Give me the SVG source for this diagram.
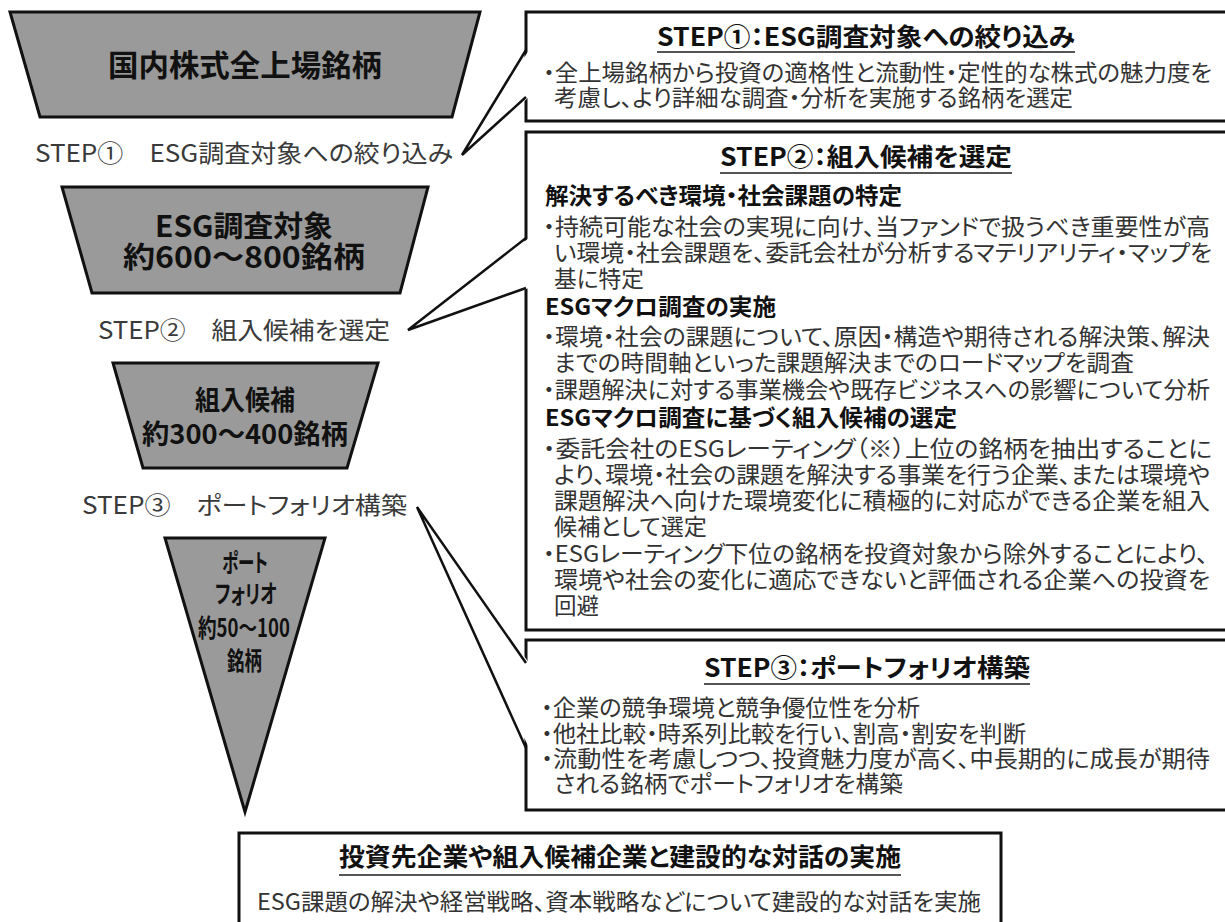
<svg xmlns="http://www.w3.org/2000/svg" width="1225" height="922" viewBox="0 0 1225 922">
<style>
text{font-family:"Noto Sans CJK JP","Noto Sans",sans-serif;font-feature-settings:"palt";}
.funnel{fill:#9a9a9a;stroke:#111;stroke-width:3;stroke-linejoin:miter;}
.ft{font-weight:bold;fill:#111;}
.lbl{font-size:24px;fill:#3a3a3a;}
.box{fill:#fff;stroke:#111;stroke-width:3;}
.ttl{font-size:25px;font-weight:bold;fill:#111;}
.ul{stroke:#555;stroke-width:2;}
.body{font-size:23px;fill:#333;}
.sub{font-size:23px;font-weight:bold;fill:#111;}
.ptrfill{fill:#fff;stroke:none;}
.ptr{fill:none;stroke:#111;stroke-width:2.5;stroke-linejoin:miter;}
</style>
<rect width="1225" height="922" fill="#fff"/>

<g id="funnel-all">
<polygon class="funnel" points="10,12 480,12 452,117 40,117"/>
<text class="ft" x="108" y="76" font-size="30" textLength="274" lengthAdjust="spacingAndGlyphs">国内株式全上場銘柄</text>
</g>
<g id="label-step1">
<text class="lbl" x="35" y="162" textLength="418" lengthAdjust="spacingAndGlyphs">STEP①　ESG調査対象への絞り込み</text>
</g>
<g id="funnel-esg">
<polygon class="funnel" points="62,187 428,187 400,293 92,293"/>
<text class="ft" x="155" y="237" font-size="29" textLength="178" lengthAdjust="spacingAndGlyphs">ESG調査対象</text>
<text class="ft" x="123" y="268" font-size="29" textLength="242" lengthAdjust="spacingAndGlyphs">約600～800銘柄</text>
</g>
<g id="label-step2">
<text class="lbl" x="98" y="339" textLength="292" lengthAdjust="spacingAndGlyphs">STEP②　組入候補を選定</text>
</g>
<g id="funnel-candidates">
<polygon class="funnel" points="113,363 378,363 347,468 143,468"/>
<text class="ft" x="195" y="410" font-size="27" textLength="100" lengthAdjust="spacingAndGlyphs">組入候補</text>
<text class="ft" x="142" y="444" font-size="27" textLength="206" lengthAdjust="spacingAndGlyphs">約300～400銘柄</text>
</g>
<g id="label-step3">
<text class="lbl" x="82" y="514" textLength="325" lengthAdjust="spacingAndGlyphs">STEP③　ポートフォリオ構築</text>
</g>
<g id="funnel-portfolio">
<polygon class="funnel" points="165,538 325,538 245,812"/>
<text class="ft" x="222" y="572" font-size="25" textLength="46" lengthAdjust="spacingAndGlyphs">ポート</text>
<text class="ft" x="215" y="603" font-size="25" textLength="62" lengthAdjust="spacingAndGlyphs">フォリオ</text>
<text class="ft" x="198" y="637" font-size="25" textLength="92" lengthAdjust="spacingAndGlyphs">約50～100</text>
<text class="ft" x="227" y="670" font-size="25" textLength="35" lengthAdjust="spacingAndGlyphs">銘柄</text>
</g>

<g id="box-step1">
<rect class="box" x="526" y="12" width="720" height="109"/>
<text class="ttl" x="657" y="46" textLength="418" lengthAdjust="spacingAndGlyphs">STEP①：ESG調査対象への絞り込み</text>
<line class="ul" x1="657" y1="52" x2="1075" y2="52"/>
<text class="body" x="543" y="81" textLength="669" lengthAdjust="spacingAndGlyphs">・全上場銘柄から投資の適格性と流動性・定性的な株式の魅力度を</text>
<text class="body" x="554" y="106" textLength="519" lengthAdjust="spacingAndGlyphs">考慮し、より詳細な調査・分析を実施する銘柄を選定</text>
</g>

<g id="box-step2">
<rect class="box" x="526" y="132" width="720" height="498"/>
<text class="ttl" x="720" y="166" textLength="292" lengthAdjust="spacingAndGlyphs">STEP②：組入候補を選定</text>
<line class="ul" x1="720" y1="173" x2="1012" y2="173"/>
<text class="sub" x="545" y="204" textLength="357" lengthAdjust="spacingAndGlyphs">解決するべき環境・社会課題の特定</text>
<text class="body" x="543" y="235" textLength="667" lengthAdjust="spacingAndGlyphs">・持続可能な社会の実現に向け、当ファンドで扱うべき重要性が高</text>
<text class="body" x="554" y="261" textLength="658" lengthAdjust="spacingAndGlyphs">い環境・社会課題を、委託会社が分析するマテリアリティ・マップを</text>
<text class="body" x="554" y="287" textLength="90" lengthAdjust="spacingAndGlyphs">基に特定</text>
<text class="sub" x="545" y="315" textLength="231" lengthAdjust="spacingAndGlyphs">ESGマクロ調査の実施</text>
<text class="body" x="543" y="345" textLength="667" lengthAdjust="spacingAndGlyphs">・環境・社会の課題について、原因・構造や期待される解決策、解決</text>
<text class="body" x="554" y="371" textLength="580" lengthAdjust="spacingAndGlyphs">までの時間軸といった課題解決までのロードマップを調査</text>
<text class="body" x="543" y="398" textLength="667" lengthAdjust="spacingAndGlyphs">・課題解決に対する事業機会や既存ビジネスへの影響について分析</text>
<text class="sub" x="545" y="426" textLength="412" lengthAdjust="spacingAndGlyphs">ESGマクロ調査に基づく組入候補の選定</text>
<text class="body" x="543" y="457" textLength="669" lengthAdjust="spacingAndGlyphs">・委託会社のESGレーティング（※）上位の銘柄を抽出することに</text>
<text class="body" x="554" y="483" textLength="656" lengthAdjust="spacingAndGlyphs">より、環境・社会の課題を解決する事業を行う企業、または環境や</text>
<text class="body" x="554" y="509" textLength="656" lengthAdjust="spacingAndGlyphs">課題解決へ向けた環境変化に積極的に対応ができる企業を組入</text>
<text class="body" x="554" y="535" textLength="153" lengthAdjust="spacingAndGlyphs">候補として選定</text>
<text class="body" x="543" y="562" textLength="665" lengthAdjust="spacingAndGlyphs">・ESGレーティング下位の銘柄を投資対象から除外することにより、</text>
<text class="body" x="554" y="588" textLength="656" lengthAdjust="spacingAndGlyphs">環境や社会の変化に適応できないと評価される企業への投資を</text>
<text class="body" x="554" y="614" textLength="45" lengthAdjust="spacingAndGlyphs">回避</text>
</g>

<g id="box-step3">
<rect class="box" x="526" y="640" width="720" height="170"/>
<text class="ttl" x="704" y="677" textLength="326" lengthAdjust="spacingAndGlyphs">STEP③：ポートフォリオ構築</text>
<line class="ul" x1="704" y1="684" x2="1030" y2="684"/>
<text class="body" x="541" y="716" textLength="379" lengthAdjust="spacingAndGlyphs">・企業の競争環境と競争優位性を分析</text>
<text class="body" x="541" y="742" textLength="485" lengthAdjust="spacingAndGlyphs">・他社比較・時系列比較を行い、割高・割安を判断</text>
<text class="body" x="541" y="767" textLength="669" lengthAdjust="spacingAndGlyphs">・流動性を考慮しつつ、投資魅力度が高く、中長期的に成長が期待</text>
<text class="body" x="554" y="792" textLength="349" lengthAdjust="spacingAndGlyphs">される銘柄でポートフォリオを構築</text>
</g>

<g id="box-dialogue">
<rect class="box" x="239" y="833" width="762" height="120"/>
<text class="ttl" x="339" y="866" textLength="562" lengthAdjust="spacingAndGlyphs">投資先企業や組入候補企業と建設的な対話の実施</text>
<line class="ul" x1="339" y1="875" x2="901" y2="875"/>
<text class="body" x="257" y="910" textLength="724" lengthAdjust="spacingAndGlyphs">ESG課題の解決や経営戦略、資本戦略などについて建設的な対話を実施</text>
</g>

<g id="connectors">
<polygon class="ptrfill" points="529,50 462,155 529,97"/>
<polyline class="ptr" points="526,50 462,155 526,97"/>
<polygon class="ptrfill" points="529,238 408,330 529,288"/>
<polyline class="ptr" points="526,238 408,330 526,288"/>
<polygon class="ptrfill" points="529,663 417,507 529,748"/>
<polyline class="ptr" points="526,663 417,507 526,748"/>
</g>
</svg>
